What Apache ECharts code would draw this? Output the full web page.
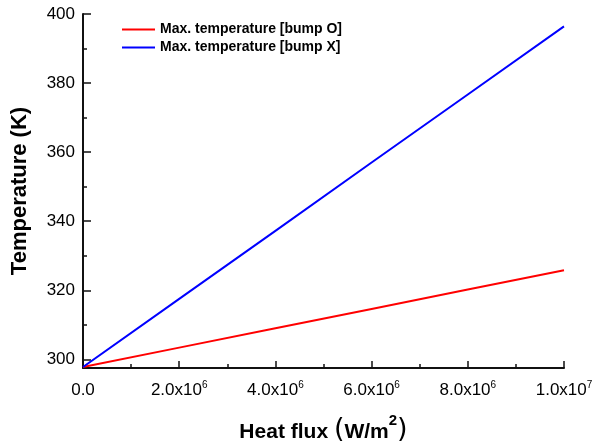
<!DOCTYPE html>
<html>
<head>
<meta charset="utf-8">
<script src="https://cdn.jsdelivr.net/npm/echarts@6/dist/echarts.min.js"></script>
<style>html,body{margin:0;padding:0;background:#fff;}#c{width:609px;height:448px;}</style>
</head>
<body>
<div id="c"></div>
<script>
var heatFlux = [0, 2e6, 4e6, 6e6, 8e6, 1e7];
var tempBumpO = [297.8, 303.4, 309.0, 314.6, 320.2, 325.8];
var tempBumpX = [297.8, 317.5, 337.2, 357.0, 376.7, 396.4];
var yMajorTicks = [300, 320, 340, 360, 380, 400];
var yMinorTicks = [310, 330, 350, 370, 390];
var seriesNames = ['Max. temperature [bump O]', 'Max. temperature [bump X]'];

function pairs(xs, ys) { return xs.map(function (x, i) { return [x, ys[i]]; }); }

var chart = echarts.init(document.getElementById('c'));
var axisColor = '#111';
chart.setOption({
  animation: false,
  backgroundColor: '#fff',
  grid: { left: 83, right: 45, top: 14, bottom: 80 },
  legend: {
    left: 117, top: 17, orient: 'vertical',
    icon: 'rect', itemWidth: 33, itemHeight: 2, itemGap: 3,
    textStyle: { fontFamily: 'Liberation Sans, Arial', fontWeight: 'bold', fontSize: 14, color: '#000', lineHeight: 15 },
    data: seriesNames
  },
  xAxis: {
    type: 'value', min: 0, max: 1e7, interval: 2e6,
    axisLine: { lineStyle: { color: axisColor, width: 2 } },
    axisTick: { inside: true, length: 7, lineStyle: { color: axisColor, width: 1.5 } },
    minorTick: { show: true, splitNumber: 2, length: 4, lineStyle: { color: axisColor, width: 1.5 } },
    splitLine: { show: false },
    axisLabel: {
      margin: 12,
      formatter: function (v) {
        if (v === 0) return '{m|0.0}';
        var e = Math.floor(Math.log10(v) + 1e-9);
        var m = v / Math.pow(10, e);
        return '{m|' + m.toFixed(1) + 'x10}{s|' + e + '}';
      },
      rich: {
        m: { fontFamily: 'Liberation Sans, Arial', fontSize: 17, color: '#000', lineHeight: 20 },
        s: { fontFamily: 'Liberation Sans, Arial', fontSize: 10, color: '#000', verticalAlign: 'top', lineHeight: 10 }
      }
    },
    name: '{a|Heat flux }{p|(}{a|W/m}{s|2}{p|)}',
    nameLocation: 'middle', nameGap: 45,
    nameTextStyle: {
      rich: {
        a: { fontFamily: 'Liberation Sans, Arial', fontWeight: 'bold', fontSize: 21, color: '#000', lineHeight: 30, verticalAlign: 'bottom' },
        p: { fontFamily: 'DejaVu Sans', fontWeight: 'normal', fontSize: 27, color: '#000', lineHeight: 30, verticalAlign: 'bottom' },
        s: { fontFamily: 'Liberation Sans, Arial', fontWeight: 'bold', fontSize: 15, color: '#000', lineHeight: 15, verticalAlign: 'top' }
      }
    }
  },
  yAxis: [{
    type: 'value', min: 297.5, max: 400,
    axisLine: { show: true, onZero: false, lineStyle: { color: axisColor, width: 2 } },
    axisTick: { show: true, inside: true, length: 8, customValues: yMajorTicks, lineStyle: { color: axisColor, width: 1.5 } },
    splitLine: { show: false },
    axisLabel: { customValues: yMajorTicks, margin: 8, fontFamily: 'Liberation Sans, Arial', fontSize: 17, color: '#000' },
    name: 'Temperature (K)', nameLocation: 'middle', nameGap: 52,
    nameTextStyle: { fontFamily: 'Liberation Sans, Arial', fontWeight: 'bold', fontSize: 22, color: '#000' }
  }, {
    type: 'value', min: 297.5, max: 400, position: 'left',
    axisLine: { show: false, onZero: false },
    axisTick: { show: true, inside: true, length: 4, customValues: yMinorTicks, lineStyle: { color: axisColor, width: 1.5 } },
    axisLabel: { show: false },
    splitLine: { show: false }
  }],
  series: [{
    name: seriesNames[0], type: 'line', showSymbol: false, yAxisIndex: 0,
    lineStyle: { color: '#ff0000', width: 2 }, itemStyle: { color: '#ff0000' },
    data: pairs(heatFlux, tempBumpO)
  }, {
    name: seriesNames[1], type: 'line', showSymbol: false, yAxisIndex: 0,
    lineStyle: { color: '#0000ff', width: 2 }, itemStyle: { color: '#0000ff' },
    data: pairs(heatFlux, tempBumpX)
  }]
});
</script>
</body>
</html>
